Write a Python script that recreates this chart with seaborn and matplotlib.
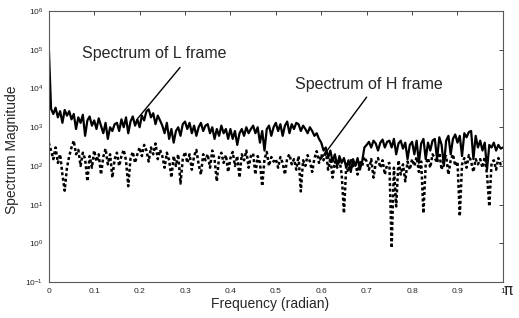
import numpy as np
import pandas as pd
import matplotlib
matplotlib.use("Agg")
import matplotlib.pyplot as plt
import seaborn as sns
from matplotlib.ticker import LogFormatterMathtext, FixedLocator, FixedFormatter

# ---------------- data ----------------
N_POINTS = 201
freq = np.linspace(0.0, 1.0, N_POINTS)  # normalized frequency (x pi rad)

L_frame = [
    120000, 3000, 2200, 3200, 1800, 2600, 1300, 2800, 2000, 2600,
    1600, 2200, 900, 1800, 1300, 2100, 600, 1500, 1900, 1100,
    1500, 900, 1700, 1100, 700, 1300, 500, 1000, 800, 1200,
    1300, 800, 1600, 1000, 1800, 700, 1400, 1900, 1100, 1600,
    1000, 2000, 1500, 2600, 2900, 1800, 2300, 1200, 2000, 1500,
    1100, 700, 1300, 500, 900, 400, 800, 1000, 600, 1200,
    1400, 900, 1300, 700, 1100, 600, 1000, 1300, 800, 1100,
    1200, 700, 1000, 500, 900, 600, 1100, 700, 900, 500,
    900, 500, 800, 350, 700, 900, 600, 1000, 700, 900,
    1100, 700, 1000, 400, 800, 250, 900, 1100, 600, 1000,
    1300, 800, 1200, 600, 1100, 1400, 700, 1200, 900, 1300,
    1200, 800, 1100, 900, 700, 1000, 800, 600, 700, 500,
    400, 250, 300, 160, 250, 130, 200, 100, 180, 120,
    160, 90, 140, 70, 150, 100, 160, 80, 130, 300,
    350, 420, 300, 450, 380, 250, 400, 480, 300, 420,
    450, 300, 500, 200, 380, 450, 280, 400, 150, 350,
    420, 200, 450, 120, 380, 500, 150, 400, 250, 450,
    500, 150, 550, 350, 100, 450, 600, 200, 500, 650,
    400, 600, 180, 700, 550, 750, 800, 150, 600, 300,
    450, 250, 400, 80, 350, 300, 400, 250, 350, 280, 300,
]

H_frame = [
    400, 250, 150, 300, 120, 200, 60, 23, 90, 180,
    300, 450, 200, 260, 100, 220, 150, 40, 180, 90,
    250, 130, 200, 60, 170, 280, 110, 200, 50, 150,
    220, 100, 180, 260, 140, 30, 160, 230, 120, 200,
    300, 180, 350, 250, 130, 300, 200, 380, 150, 260,
    180, 90, 220, 140, 50, 180, 100, 200, 35, 150,
    230, 120, 200, 80, 180, 260, 110, 60, 200, 140,
    200, 90, 250, 150, 40, 170, 220, 120, 190, 70,
    160, 230, 100, 180, 50, 200, 140, 250, 90, 180,
    210, 60, 180, 120, 30, 150, 230, 100, 170, 130,
    150, 90, 170, 120, 60, 160, 200, 110, 150, 80,
    180, 22, 140, 100, 190, 130, 70, 160, 240, 120,
    200, 140, 250, 80, 160, 50, 130, 90, 150, 60,
    6, 100, 70, 150, 90, 130, 60, 140, 100, 170,
    130, 80, 150, 50, 120, 160, 90, 140, 60, 110,
    120, 0.76, 90, 9, 140, 60, 110, 40, 130, 80,
    150, 100, 170, 70, 130, 6, 110, 160, 90, 200,
    160, 120, 220, 80, 150, 180, 60, 140, 200, 100,
    130, 5, 110, 160, 90, 190, 130, 70, 150, 110,
    150, 90, 170, 60, 9, 120, 140, 80, 160, 110, 130,
]

x_ticks = [0, 0.1, 0.2, 0.3, 0.4, 0.5, 0.6, 0.7, 0.8, 0.9, 1.0]
x_tick_labels = ["0", "0.1", "0.2", "0.3", "0.4", "0.5", "0.6", "0.7", "0.8", "0.9", "1"]
y_ticks = [1e-1, 1e0, 1e1, 1e2, 1e3, 1e4, 1e5, 1e6]
y_limits = (1e-1, 1e6)

label_L = "Spectrum of L frame"
label_H = "Spectrum of H frame"
xlabel = "Frequency (radian)"
ylabel = "Spectrum Magnitude"

# annotation anchors (data coords)
L_text_pos = (0.073, 8.0e4)
L_line = ((0.289, 3.5e4), (0.196, 1.7e3))
H_text_pos = (0.542, 1.3e4)
H_line = ((0.700, 6.0e3), (0.597, 1.4e2))

# ---------------- plotting ----------------
sns.set_style("white")
plt.rcParams["font.family"] = ["Liberation Sans", "DejaVu Sans"]
plt.rcParams["mathtext.fontset"] = "custom"
plt.rcParams["mathtext.rm"] = "Liberation Sans"

df = pd.DataFrame({"freq": np.concatenate([freq, freq]),
                   "mag": np.concatenate([L_frame, H_frame]),
                   "frame": ["L"] * N_POINTS + ["H"] * N_POINTS})

fig = plt.figure(figsize=(5.19, 3.18), dpi=100)
ax = fig.add_axes([0.094, 0.113, 0.875, 0.852])

sns.lineplot(data=df[df.frame == "L"], x="freq", y="mag", ax=ax,
             color="black", linewidth=1.6, estimator=None, legend=False)
sns.lineplot(data=df[df.frame == "H"], x="freq", y="mag", ax=ax,
             color="black", linewidth=1.8, estimator=None, legend=False,
             linestyle=(0, (1.2, 1.0)))

ax.set_yscale("log")
ax.set_ylim(*y_limits)
ax.set_xlim(0, 1)

ax.xaxis.set_major_locator(FixedLocator(x_ticks))
ax.xaxis.set_major_formatter(FixedFormatter(x_tick_labels))
ax.yaxis.set_major_locator(FixedLocator(y_ticks))
ax.yaxis.set_major_formatter(LogFormatterMathtext())
ax.yaxis.set_minor_locator(plt.NullLocator())

ax.tick_params(axis="both", which="major", direction="in", length=3, width=0.6,
               top=True, right=True, labelsize=6, pad=4, colors="0.15")

for sp in ax.spines.values():
    sp.set_linewidth(0.8)
    sp.set_linestyle((0, (1.5, 1.0)))
    sp.set_color("0.35")

ax.set_xlabel("")
ax.set_ylabel("")
ax.xaxis.label.set_visible(False)
ax.yaxis.label.set_visible(False)
fig.text(270 / 519, 1 - 304 / 318, xlabel, fontsize=10, ha="center", va="center")
fig.text(12 / 519, 1 - 150 / 318, ylabel, fontsize=10, ha="center", va="center",
         rotation=90)

ax.text(1.012, -0.005, "π", transform=ax.transAxes, fontsize=11,
        ha="center", va="top", family="DejaVu Sans")

ax.text(L_text_pos[0], L_text_pos[1], label_L, fontsize=11.5, ha="left", va="center")
ax.text(H_text_pos[0], H_text_pos[1], label_H, fontsize=11.5, ha="left", va="center")
ax.annotate("", xy=L_line[1], xytext=L_line[0],
            arrowprops=dict(arrowstyle="-", color="black", lw=1.0, shrinkA=0, shrinkB=0))
ax.annotate("", xy=H_line[1], xytext=H_line[0],
            arrowprops=dict(arrowstyle="-", color="black", lw=1.0, shrinkA=0, shrinkB=0))

fig.savefig("out.png", dpi=100)
